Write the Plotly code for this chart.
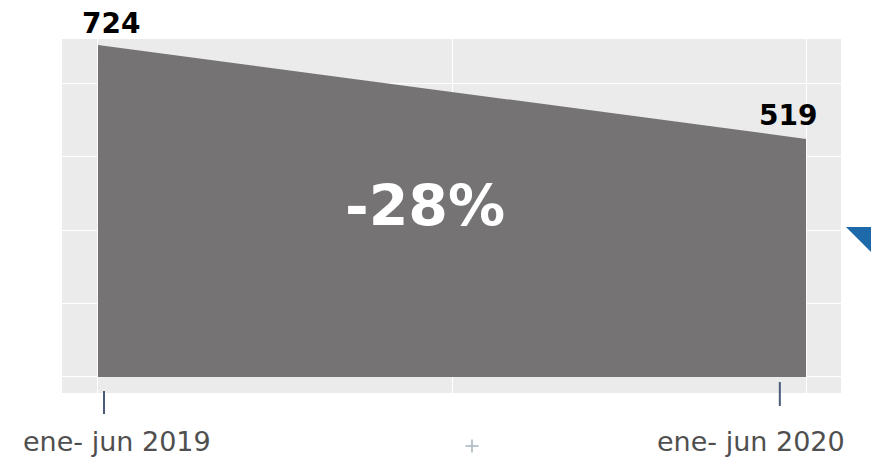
import plotly.graph_objects as go

# data
periods = ["ene- jun 2019", "ene- jun 2020"]
x_pos = [0, 1]
values = [724, 519]

change = (values[1] - values[0]) / values[0] * 100
pct_label = f"{change:.0f}%"

FONT = "DejaVu Sans"
AREA = "#767374"

fig = go.Figure()
fig.add_trace(go.Scatter(
    x=x_pos, y=values, mode="lines", fill="tozeroy",
    fillcolor=AREA, line=dict(color=AREA, width=0),
    hoverinfo="skip", showlegend=False,
))

annotations = []
# value labels
annotations.append(dict(x=x_pos[0], y=values[0], text=f"<b>{values[0]}</b>",
                        showarrow=False, xanchor="center", yanchor="bottom",
                        xshift=13, yshift=3,
                        font=dict(family=FONT, size=28, color="#000000")))
annotations.append(dict(x=x_pos[1], y=values[1], text=f"<b>{values[1]}</b>",
                        showarrow=False, xanchor="center", yanchor="bottom",
                        xshift=-18, yshift=5,
                        font=dict(family=FONT, size=28, color="#000000")))
# percentage label
annotations.append(dict(x=0.462, y=373, text=f"<b>{pct_label}</b>",
                        showarrow=False, xanchor="center", yanchor="middle",
                        font=dict(family=FONT, size=57, color="#ffffff")))
# period labels
annotations.append(dict(x=x_pos[0], y=-0.138, yref="paper", text=periods[0],
                        showarrow=False, xanchor="left", yanchor="middle",
                        xshift=-77,
                        font=dict(family=FONT, size=27, color="#4f4f4f")))
annotations.append(dict(x=x_pos[1], y=-0.138, yref="paper", text=periods[1],
                        showarrow=False, xanchor="right", yanchor="middle",
                        xshift=41,
                        font=dict(family=FONT, size=27, color="#4f4f4f")))

shapes = [
    # small tick marks
    dict(type="line", xref="x", yref="paper", x0=0.0085, x1=0.0085,
         y0=0.0057, y1=-0.0593, line=dict(color="#4a5a78", width=2)),
    dict(type="line", xref="x", yref="paper", x0=0.963, x1=0.963,
         y0=0.031, y1=-0.0367, line=dict(color="#4a5a78", width=2)),
    # plus sign
    dict(type="line", xref="paper", yref="paper", x0=0.5180, x1=0.5346,
         y0=-0.1497, y1=-0.1497, line=dict(color="#a9b8bf", width=1.6)),
    dict(type="line", xref="paper", yref="paper", x0=0.5263, x1=0.5263,
         y0=-0.1314, y1=-0.1680, line=dict(color="#a9b8bf", width=1.6)),
    # blue triangle
    dict(type="path", xref="paper", yref="paper",
         path="M 1.0064 0.4689 L 1.0385 0.4689 L 1.0385 0.3983 Z",
         fillcolor="#1e69a9", line=dict(width=0)),
]

fig.update_layout(
    width=871, height=461,
    margin=dict(l=62, r=30, t=39, b=68),
    paper_bgcolor="#ffffff", plot_bgcolor="#ebebeb",
    showlegend=False,
    annotations=annotations, shapes=shapes,
    xaxis=dict(range=[-0.0508, 1.0494], tick0=0, dtick=0.5,
               showgrid=True, gridcolor="#ffffff", gridwidth=1,
               showticklabels=False, zeroline=False, showline=False, ticks=""),
    yaxis=dict(range=[-34.9, 736.9], tick0=0, dtick=160.2,
               showgrid=True, gridcolor="#ffffff", gridwidth=1,
               showticklabels=False, zeroline=False, showline=False, ticks=""),
)

fig.write_html("out.html",
               config={"displayModeBar": False},
               post_script="document.body.style.margin='0';document.body.style.overflow='hidden';")
